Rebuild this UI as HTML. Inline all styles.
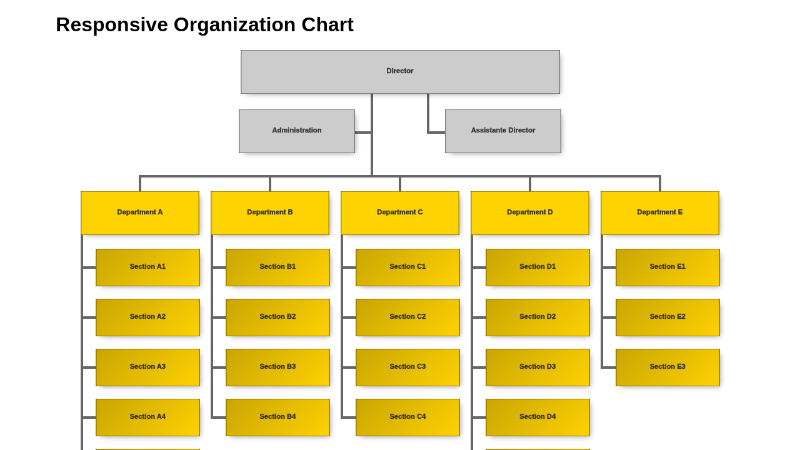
<!DOCTYPE html>
<html lang="en">
<head>
<meta charset="utf-8">
<title>Responsive Organization Chart</title>
<style>
*{box-sizing:border-box;}
html,body{margin:0;padding:0;background:#fff;}
body{width:800px;height:450px;overflow:hidden;font-family:"Liberation Sans",Arial,Helvetica,sans-serif;color:#000;}
#stage{position:absolute;left:0;top:0;width:1280px;height:720px;transform:scale(0.625);transform-origin:0 0;overflow:hidden;will-change:transform;}
h1{position:absolute;left:89.3px;top:20.6px;margin:0;font-size:32px;line-height:37px;font-weight:bold;white-space:nowrap;}
.ln{position:absolute;background:#666;}
.bx{position:absolute;display:block;height:70px;background:#ccc;border:0;text-align:center;font-size:11.2px;font-weight:bold;color:#333;text-decoration:none;line-height:66px;box-shadow:inset 1.5px 0 0 0 rgba(0,0,0,0.36),inset -1.5px 0 0 0 rgba(0,0,0,0.36),inset 0 1px 0 0 rgba(0,0,0,0.36),inset 0 -1px 0 0 rgba(0,0,0,0.36),4px 4px 9px -4px rgba(0,0,0,0.4);white-space:nowrap;overflow:hidden;-webkit-text-stroke:0.35px #333;}
.bx.dep{background:#FFD202;width:190.08px;top:306px;}
.bx.sec{height:60px;line-height:56px;width:167.47px;background:#FFD202 linear-gradient(135deg,rgba(0,0,0,0.21) 0%,rgba(0,0,0,0) 100%);}
</style>
</head>
<body>
<div id="stage">
<h1>Responsive Organization Chart</h1>

<!-- connector lines -->
<div class="ln" style="left:593.07px;top:150.00px;width:4.00px;height:134.00px"></div>
<div class="ln" style="left:568.07px;top:210.00px;width:29.00px;height:4.00px"></div>
<div class="ln" style="left:682.93px;top:150.00px;width:4.00px;height:64.00px"></div>
<div class="ln" style="left:682.93px;top:210.00px;width:30.00px;height:4.00px"></div>
<div class="ln" style="left:222.04px;top:280.00px;width:835.92px;height:4.00px"></div>
<div class="ln" style="left:222.04px;top:280.00px;width:4.00px;height:27.00px"></div>
<div class="ln" style="left:430.02px;top:280.00px;width:4.00px;height:27.00px"></div>
<div class="ln" style="left:638.00px;top:280.00px;width:4.00px;height:27.00px"></div>
<div class="ln" style="left:845.98px;top:280.00px;width:4.00px;height:27.00px"></div>
<div class="ln" style="left:1053.96px;top:280.00px;width:4.00px;height:27.00px"></div>
<!-- department spines -->
<div class="ln" style="left:129.00px;top:370.00px;width:4.00px;height:460.00px"></div>
<div class="ln" style="left:336.98px;top:370.00px;width:4.00px;height:300.00px"></div>
<div class="ln" style="left:544.96px;top:370.00px;width:4.00px;height:300.00px"></div>
<div class="ln" style="left:752.94px;top:370.00px;width:4.00px;height:460.00px"></div>
<div class="ln" style="left:960.92px;top:370.00px;width:4.00px;height:220.00px"></div>
<a class="bx" style="left:384.50px;top:80px;width:511.00px">Director</a>
<a class="bx" style="left:381.98px;top:175px;width:186.08px">Administration</a>
<a class="bx" style="left:711.93px;top:175px;width:186.08px">Assistante Director</a>

<!-- Department A -->
<div class="ln" style="left:129.00px;top:426.00px;width:30.00px;height:4.00px"></div>
<div class="ln" style="left:129.00px;top:506.00px;width:30.00px;height:4.00px"></div>
<div class="ln" style="left:129.00px;top:586.00px;width:30.00px;height:4.00px"></div>
<div class="ln" style="left:129.00px;top:666.00px;width:30.00px;height:4.00px"></div>
<div class="ln" style="left:129.00px;top:746.00px;width:30.00px;height:4.00px"></div>
<div class="ln" style="left:129.00px;top:826.00px;width:30.00px;height:4.00px"></div>
<a class="bx dep" style="left:129.00px">Department A</a>
<a class="bx sec" style="left:152.61px;top:398px">Section A1</a>
<a class="bx sec" style="left:152.61px;top:478px">Section A2</a>
<a class="bx sec" style="left:152.61px;top:558px">Section A3</a>
<a class="bx sec" style="left:152.61px;top:638px">Section A4</a>
<a class="bx sec" style="left:152.61px;top:718px">Section A5</a>
<a class="bx sec" style="left:152.61px;top:798px">Section A6</a>

<!-- Department B -->
<div class="ln" style="left:336.98px;top:426.00px;width:30.00px;height:4.00px"></div>
<div class="ln" style="left:336.98px;top:506.00px;width:30.00px;height:4.00px"></div>
<div class="ln" style="left:336.98px;top:586.00px;width:30.00px;height:4.00px"></div>
<div class="ln" style="left:336.98px;top:666.00px;width:30.00px;height:4.00px"></div>
<a class="bx dep" style="left:336.98px">Department B</a>
<a class="bx sec" style="left:360.59px;top:398px">Section B1</a>
<a class="bx sec" style="left:360.59px;top:478px">Section B2</a>
<a class="bx sec" style="left:360.59px;top:558px">Section B3</a>
<a class="bx sec" style="left:360.59px;top:638px">Section B4</a>

<!-- Department C -->
<div class="ln" style="left:544.96px;top:426.00px;width:30.00px;height:4.00px"></div>
<div class="ln" style="left:544.96px;top:506.00px;width:30.00px;height:4.00px"></div>
<div class="ln" style="left:544.96px;top:586.00px;width:30.00px;height:4.00px"></div>
<div class="ln" style="left:544.96px;top:666.00px;width:30.00px;height:4.00px"></div>
<a class="bx dep" style="left:544.96px">Department C</a>
<a class="bx sec" style="left:568.57px;top:398px">Section C1</a>
<a class="bx sec" style="left:568.57px;top:478px">Section C2</a>
<a class="bx sec" style="left:568.57px;top:558px">Section C3</a>
<a class="bx sec" style="left:568.57px;top:638px">Section C4</a>

<!-- Department D -->
<div class="ln" style="left:752.94px;top:426.00px;width:30.00px;height:4.00px"></div>
<div class="ln" style="left:752.94px;top:506.00px;width:30.00px;height:4.00px"></div>
<div class="ln" style="left:752.94px;top:586.00px;width:30.00px;height:4.00px"></div>
<div class="ln" style="left:752.94px;top:666.00px;width:30.00px;height:4.00px"></div>
<div class="ln" style="left:752.94px;top:746.00px;width:30.00px;height:4.00px"></div>
<div class="ln" style="left:752.94px;top:826.00px;width:30.00px;height:4.00px"></div>
<a class="bx dep" style="left:752.94px">Department D</a>
<a class="bx sec" style="left:776.55px;top:398px">Section D1</a>
<a class="bx sec" style="left:776.55px;top:478px">Section D2</a>
<a class="bx sec" style="left:776.55px;top:558px">Section D3</a>
<a class="bx sec" style="left:776.55px;top:638px">Section D4</a>
<a class="bx sec" style="left:776.55px;top:718px">Section D5</a>
<a class="bx sec" style="left:776.55px;top:798px">Section D6</a>

<!-- Department E -->
<div class="ln" style="left:960.92px;top:426.00px;width:30.00px;height:4.00px"></div>
<div class="ln" style="left:960.92px;top:506.00px;width:30.00px;height:4.00px"></div>
<div class="ln" style="left:960.92px;top:586.00px;width:30.00px;height:4.00px"></div>
<a class="bx dep" style="left:960.92px">Department E</a>
<a class="bx sec" style="left:984.53px;top:398px">Section E1</a>
<a class="bx sec" style="left:984.53px;top:478px">Section E2</a>
<a class="bx sec" style="left:984.53px;top:558px">Section E3</a>
</div>
</body>
</html>
